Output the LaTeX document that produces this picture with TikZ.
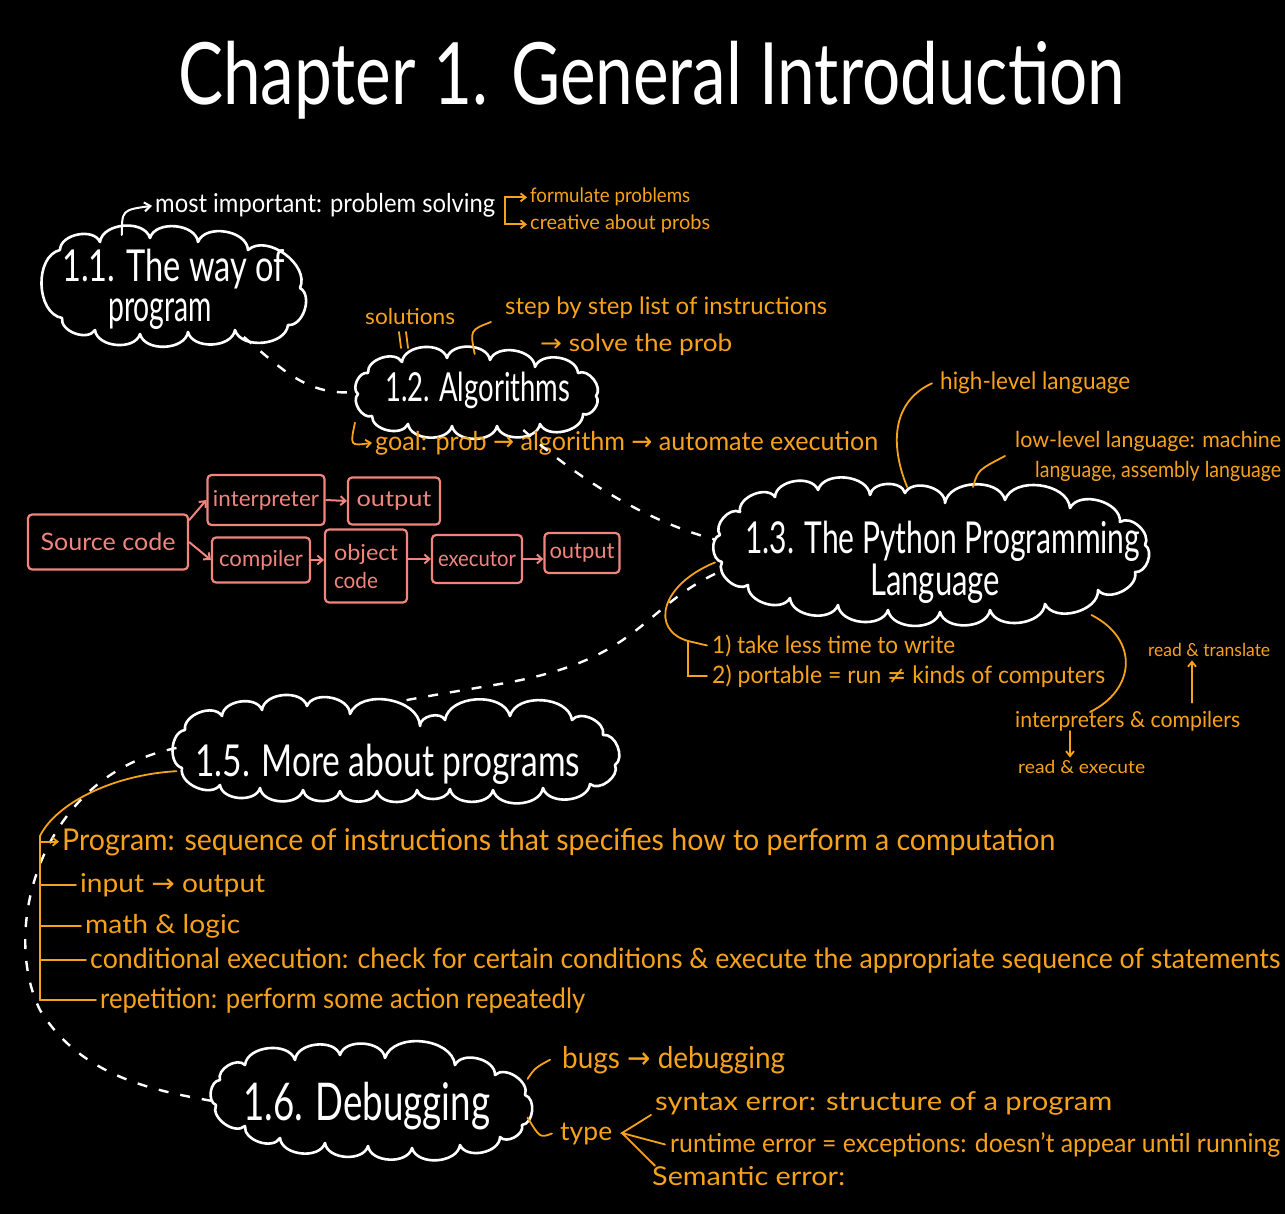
\documentclass[tikz,border=0pt]{standalone}
\usepackage{fontspec}
\setmainfont{Lato}
\newfontfamily\symfont{DejaVu Sans}
\usepackage{graphicx}
\usetikzlibrary{arrows.meta}
\definecolor{orng}{HTML}{F7A21B}
\definecolor{pinkc}{HTML}{F0857D}
\newcommand\hw[3]{\resizebox{#1pt}{\height}{\fontsize{#2pt}{#2pt}\selectfont #3}}
\newcommand\arr{{\symfont →}}
\newcommand\neqs{{\symfont ≠}}
\tikzset{
 cloudbox/.style={draw=none, inner sep=0pt, outer sep=3pt},
 cloudline/.style={draw=white, line width=2.6pt, line join=round, line cap=round},
 puff/.style={bend left=78},
 wtext/.style={text=white, inner sep=0pt, anchor=base west},
 otext/.style={text=orng, inner sep=0pt, anchor=base west},
 pbox/.style={draw=pinkc, text=pinkc, line width=2.2pt, rounded corners=4pt, inner sep=0pt},
 oline/.style={draw=orng, line width=1.8pt, line cap=round},
 wline/.style={draw=white, line width=2pt, line cap=round},
 wdash/.style={draw=white, line width=2.4pt, dash pattern=on 10pt off 12pt},
 parrow/.style={draw=pinkc, line width=2pt, -{Straight Barb[length=5pt,width=9pt]}},
 oarrow/.style={oline, -{Straight Barb[length=5pt,width=8pt]}},
 warrow/.style={wline, -{Straight Barb[length=6pt,width=9pt]}},
}
\begin{document}
\begin{tikzpicture}[x=1pt,y=-1pt]
\fill[black] (0,0) rectangle (1285,1214);
\useasboundingbox (0,0) rectangle (1285,1214);
\begin{scope}
\clip (0,0) rectangle (1285,1214);
% title
\node[wtext] (title) at (178,105) {\hw{947}{86}{Chapter 1. General Introduction}};
% cloud anchor nodes
\node[cloudbox, minimum width=258pt, minimum height=96pt] (c11) at (171,286) {};
\node[cloudbox, minimum width=240pt, minimum height=70pt] (c12) at (478,392) {};
\node[cloudbox, minimum width=430pt, minimum height=122pt] (c13) at (933,551) {};
\node[cloudbox, minimum width=435pt, minimum height=85pt] (c15) at (397,748) {};
\node[cloudbox, minimum width=309pt, minimum height=93pt] (c16) at (370,1101) {};
% cloud outlines
\draw[cloudline] (60,250) to[puff] (100,242) to[puff] (150,238) to[puff] (198,242) to[puff] (248,250)
  to[puff] (300,288) to[puff] (288,325) to[puff] (235,330) to[puff] (188,332) to[puff] (140,334)
  to[puff] (95,330) to[puff] (62,318) to[puff] (60,250);
\draw[cloudline] (368,373) to[puff] (402,362) to[puff] (447,358) to[puff] (490,360) to[puff] (535,367)
  to[puff] (578,373) to[puff] (596,396) to[puff] (583,414) to[puff] (540,424) to[puff] (497,426)
  to[puff] (452,426) to[puff] (408,424) to[puff] (372,416) to[puff] (358,394) to[puff] (368,373);
\draw[cloudline] (740,512) to[puff] (775,497) to[puff] (818,490) to[puff] (870,495) to[puff] (905,493)
  to[puff] (945,503) to[puff] (1005,500) to[puff] (1070,508) to[puff] (1120,522) to[puff] (1145,545)
  to[puff] (1135,572) to[puff] (1098,590) to[puff] (1045,604) to[puff] (990,610) to[puff] (940,612)
  to[puff] (888,610) to[puff] (838,605) to[puff] (790,598) to[puff] (748,585) to[puff] (722,562)
  to[puff] (720,535) to[puff] (740,512);
\draw[cloudline] (185,730) to[puff] (222,716) to[puff] (262,710) to[puff] (307,706) to[puff] (350,714)
  to[puff] (420,726) to[puff] (445,720) to[puff] (510,716) to[puff] (572,720) to[puff] (603,735)
  to[puff] (615,765) to[puff] (590,784) to[puff] (543,788) to[puff] (493,790) to[puff] (450,789)
  to[puff] (417,790) to[puff] (377,791) to[puff] (340,791) to[puff] (303,790) to[puff] (260,788)
  to[puff] (220,785) to[puff] (182,768) to[puff] (185,730);
\draw[cloudline] (220,1080) to[puff] (245,1065) to[puff] (295,1060) to[puff] (340,1055) to[puff] (385,1058)
  to[puff] (455,1065) to[puff] (495,1075) to[puff] (525,1095) to[puff] (522,1125) to[puff] (500,1137)
  to[puff] (460,1145) to[puff] (412,1148) to[puff] (368,1146) to[puff] (325,1143) to[puff] (280,1138)
  to[puff] (245,1126) to[puff] (216,1105) to[puff] (220,1080);
% cloud labels
\node[wtext] (t11a) at (62,282) {\hw{223}{44}{1.1. The way of}};
\node[wtext] (t11b) at (108,322) {\hw{104}{44}{program}};
\node[wtext] (t12) at (385,402) {\hw{185}{40}{1.2. Algorithms}};
\node[wtext] (t13a) at (745,553) {\hw{395}{44}{1.3. The Python Programming}};
\node[wtext] (t13b) at (870,595) {\hw{130}{44}{Language}};
\node[wtext] (t15) at (195,776) {\hw{385}{44}{1.5. More about programs}};
\node[wtext] (t16) at (243,1120) {\hw{247}{52}{1.6. Debugging}};
% 1.1 notes
\node[wtext] (imp) at (155,213) {\hw{340}{26}{most important: problem solving}};
\node[otext] (form) at (530,203) {\hw{160}{20}{formulate problems}};
\node[otext] (creat) at (530,230) {\hw{180}{20}{creative about probs}};
% 1.2 notes
\node[otext] (sol) at (365,325) {\hw{90}{22}{solutions}};
\node[otext] (step) at (505,315) {\hw{322}{24}{step by step list of instructions}};
\node[otext] (solve) at (540,352) {\hw{192}{24}{\arr{} solve the prob}};
\node[otext] (goal) at (375,450) {\hw{503}{26}{goal: prob \arr{} algorithm \arr{} automate execution}};
% 1.3 notes
\node[otext] (high) at (940,390) {\hw{190}{24}{high-level language}};
\node[otext] (low1) at (1015,447) {\hw{266}{22}{low-level language: machine}};
\node[otext] (low2) at (1035,477) {\hw{246}{22}{language, assembly language}};
\node[otext] (adv1) at (712,653) {\hw{243}{24}{1) take less time to write}};
\node[otext] (adv2) at (712,683) {\hw{393}{24}{2) portable = run \neqs{} kinds of computers}};
\node[otext] (rt) at (1148,656) {\hw{122}{18}{read \& translate}};
\node[otext] (ic) at (1015,727) {\hw{225}{22}{interpreters \& compilers}};
\node[otext] (re) at (1018,773) {\hw{127}{18}{read \& execute}};
% pink flow
\node[pbox, minimum width=160pt, minimum height=55pt] (src) at (108,542) {\hw{135}{24}{Source code}};
\node[pbox, minimum width=117pt, minimum height=50pt] (interp) at (266,500) {\hw{106}{22}{interpreter}};
\node[pbox, minimum width=92pt, minimum height=47pt] (out1) at (394,501) {\hw{75}{22}{output}};
\node[pbox, minimum width=98pt, minimum height=45pt] (comp) at (261,560) {\hw{84}{22}{compiler}};
\node[pbox, minimum width=82pt, minimum height=73pt, align=left, font=\fontsize{22pt}{28pt}\selectfont] (obj) at (366,566) {\hw{64}{22}{object}\\\hw{44}{22}{code}};
\node[pbox, minimum width=90pt, minimum height=48pt] (exec) at (477,559) {\hw{78}{22}{executor}};
\node[pbox, minimum width=75pt, minimum height=40pt] (out2) at (582,553) {\hw{65}{22}{output}};
\draw[parrow] (src.15) -- (interp.west);
\draw[parrow] (src.east) -- (comp.west);
\draw[parrow] (interp.east) -- (out1.west);
\draw[parrow] (comp.east) -- (obj.west |- comp.east);
\draw[parrow] (obj.east |- exec.west) -- (exec.west);
\draw[parrow] (exec.east) -- (out2.west |- exec.east);
% 1.5 list
\node[otext] (prog) at (62,850) {\hw{993}{30}{Program: sequence of instructions that specifies how to perform a computation}};
\node[otext] (inp) at (80,892) {\hw{185}{26}{input \arr{} output}};
\node[otext] (math) at (85,933) {\hw{155}{26}{math \& logic}};
\node[otext] (cond) at (90,968) {\hw{1190}{28}{conditional execution: check for certain conditions \& execute the appropriate sequence of statements}};
\node[otext] (rep) at (100,1008) {\hw{485}{28}{repetition: perform some action repeatedly}};
% 1.6 notes
\node[otext] (bugs) at (562,1068) {\hw{223}{30}{bugs \arr{} debugging}};
\node[otext] (type) at (560,1140) {\hw{52}{26}{type}};
\node[otext] (syn) at (655,1110) {\hw{457}{26}{syntax error: structure of a program}};
\node[otext] (run) at (670,1152) {\hw{610}{26}{runtime error = exceptions: doesn't appear until running}};
\node[otext] (sem) at (652,1185) {\hw{193}{26}{Semantic error:}};
% coordinates for free ends
\coordinate (brk1) at (505,213);
\coordinate (stepend) at (491,322);
\coordinate (lowend) at (1005,456);
\coordinate (b13) at (688,641);
\coordinate (icend) at (1090,712);
\coordinate (lb) at (40,836);
\coordinate (lt) at (622,1133);
% white arrow 1.1
\draw[warrow] (c11.134) .. controls (122,210) .. ([xshift=-3pt]imp.west);
% bracket to formulate / creative
\draw[oarrow] (brk1) |- ([xshift=-3pt]form.west);
\draw[oarrow] (brk1) |- ([xshift=-3pt]creat.west);
% dashed links
\draw[wdash] (c11.-35) to[out=-40,in=185] (c12.west);
\draw[wdash] (c12.-40) .. controls (590,490) and (660,525) .. (c13.177);
\draw[wdash] (c13.186) .. controls (640,610) and (640,660) .. (500,684) .. controls (440,694) and (405,700) .. (c15.92);
\draw[wdash] (c15.180) .. controls (40,775) and (0,930) .. (40,1010) .. controls (80,1075) and (150,1090) .. (c16.180);
% 1.2 orange
\draw[oline] (399,332) -- (401,348);
\draw[oline] (406,332) -- (408,348);
\draw[oline] (c12.95) .. controls (470,330) .. (stepend);
\draw[oarrow] (c12.194) .. controls (350,446) .. ([xshift=-3pt]goal.west);
% 1.3 orange
\draw[oline] (c13.112) .. controls (888,440) and (895,400) .. ([xshift=-8pt]high.west);
\draw[oline] (c13.58) .. controls (978,470) .. (lowend);
\draw[oline] (c13.183) .. controls (660,585) and (650,630) .. (b13);
\draw[oline] (b13) -- ([xshift=-5pt]adv1.west);
\draw[oline] (b13) |- ([xshift=-5pt]adv2.west);
\draw[oline] (c13.-22) .. controls (1140,640) and (1135,690) .. (icend);
\draw[oarrow] ([xshift=55pt]ic.south west) -- ([xshift=52pt,yshift=2pt]re.north west);
\draw[oarrow] ([xshift=177pt,yshift=8pt]ic.north west) -- ([xshift=44pt,yshift=-4pt]rt.south west);
% 1.5 orange
\draw[oline] (c15.186) .. controls (110,775) and (55,805) .. (lb);
\draw[oline] (lb) -- (lb |- rep.west);
\draw[oarrow] (lb |- prog.west) -- ([xshift=-3pt]prog.west);
\draw[oline] (lb |- inp.west) -- ([xshift=-4pt]inp.west);
\draw[oline] (lb |- math.west) -- ([xshift=-4pt]math.west);
\draw[oline] (lb |- cond.west) -- ([xshift=-4pt]cond.west);
\draw[oline] (lb |- rep.west) -- ([xshift=-4pt]rep.west);
% 1.6 orange
\draw[oline] (c16.8) .. controls (535,1068) .. ([xshift=-12pt]bugs.west);
\draw[oline] (c16.-6) .. controls (540,1138) .. ([xshift=-8pt]type.west);
\draw[oline] ([xshift=-4pt]syn.south west) -- (lt) -- ([xshift=-5pt]run.west);
\draw[oline] (lt) -- ([xshift=3pt]sem.north west);
\end{scope}
\end{tikzpicture}
\end{document}
